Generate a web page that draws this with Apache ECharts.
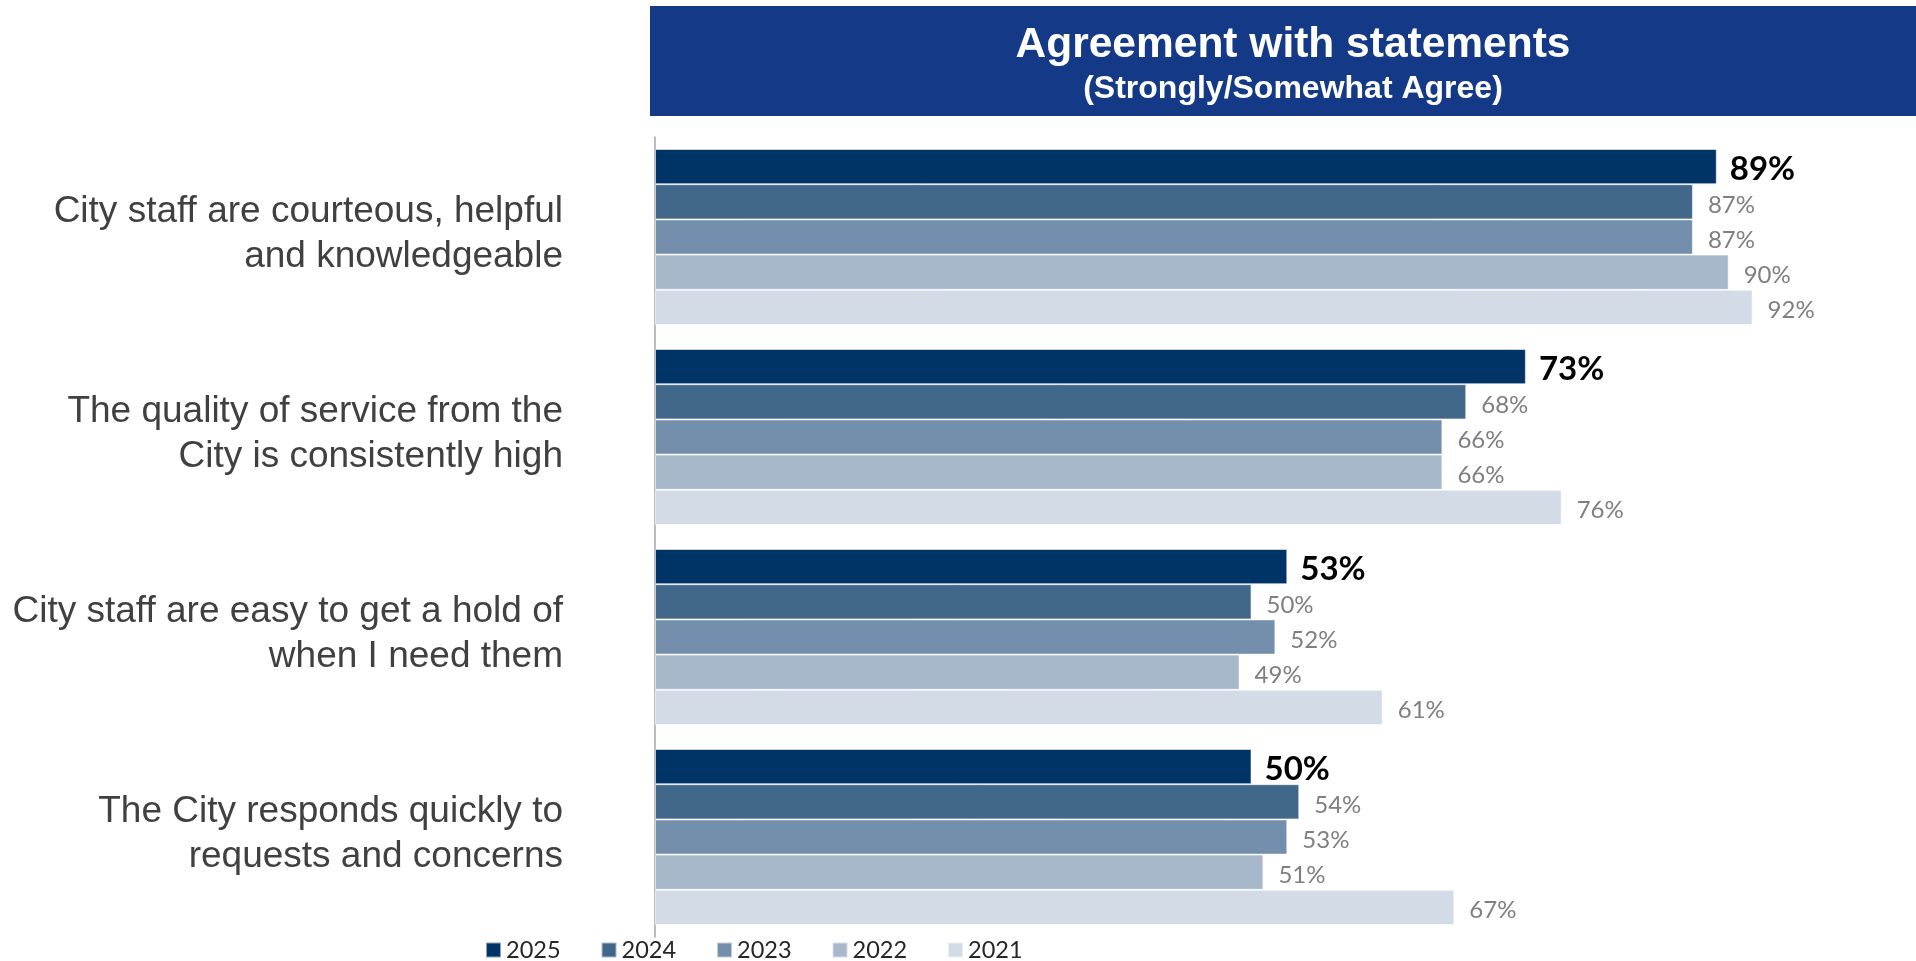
<!DOCTYPE html>
<html>
<head>
<meta charset="utf-8">
<style>
  html, body { margin: 0; padding: 0; background: #fff; }
  #chart { width: 1916px; height: 961px; }
</style>
<script src="https://cdn.jsdelivr.net/npm/echarts@6/dist/echarts.min.js"></script>
</head>
<body>
<div id="chart"></div>
<script>
// Statements shown on the left, top to bottom
const statements = [
  'City staff are courteous, helpful\nand knowledgeable',
  'The quality of service from the\nCity is consistently high',
  'City staff are easy to get a hold of\nwhen I need them',
  'The City responds quickly to\nrequests and concerns'
];

// Survey years, newest first
const years = ['2025', '2024', '2023', '2022', '2021'];

// Percent who strongly/somewhat agree, one array per year (same order as statements)
const pct2025 = [89, 73, 53, 50];
const pct2024 = [87, 68, 50, 54];
const pct2023 = [87, 66, 52, 53];
const pct2022 = [90, 66, 49, 51];
const pct2021 = [92, 76, 61, 67];

const yearValues = [pct2025, pct2024, pct2023, pct2022, pct2021];
const yearColors = ['#003366', '#41678B', '#748FAC', '#A7B8CB', '#D3DCE6'];

const chart = echarts.init(document.getElementById('chart'));

const series = years.map((y, i) => ({
  name: y,
  type: 'bar',
  data: yearValues[i],
  barGap: '0%',
  barCategoryGap: '12%',
  itemStyle: {
    color: yearColors[i],
    borderColor: 'rgba(255,255,255,0.55)',
    borderWidth: 1
  },
  label: {
    show: true,
    position: 'right',
    distance: i === 0 ? 13 : 15,
    offset: [0, 3],
    formatter: '{c}%',
    fontFamily: 'Lato',
    fontSize: i === 0 ? 33 : 24,
    fontWeight: i === 0 ? 'bold' : 'normal',
    color: i === 0 ? '#000000' : '#7F7F7F'
  },
  emphasis: { disabled: true }
}));

chart.setOption({
  animation: false,
  backgroundColor: '#ffffff',
  graphic: [
    {
      type: 'rect',
      shape: { x: 650, y: 6, width: 1266, height: 110 },
      style: { fill: '#143A87' },
      silent: true
    },
    {
      type: 'text',
      x: 1293, y: 45,
      style: {
        text: 'Agreement with statements',
        fill: '#ffffff',
        font: 'bold 42.5px "Liberation Sans", Arial, sans-serif',
        align: 'center',
        verticalAlign: 'middle'
      }
    },
    {
      type: 'text',
      x: 1293, y: 89,
      style: {
        text: '(Strongly/Somewhat Agree)',
        fill: '#ffffff',
        font: 'bold 32px "Liberation Sans", Arial, sans-serif',
        align: 'center',
        verticalAlign: 'middle'
      }
    }
  ],
  legend: {
    data: years,
    left: 485,
    top: 938,
    padding: 0,
    itemWidth: 15,
    itemHeight: 15,
    itemGap: 40,
    icon: 'rect',
    textStyle: { fontFamily: 'Lato', fontSize: 23.5, color: '#262626', padding: [0, 0, 0, 0] }
  },
  grid: { left: 655, right: 68, top: 137, bottom: 24, containLabel: false },
  xAxis: {
    type: 'value',
    min: 0,
    max: 100,
    show: false
  },
  yAxis: {
    type: 'category',
    data: statements,
    inverse: true,
    axisLine: { show: true, lineStyle: { color: '#A6A6A6', width: 1.5 } },
    axisTick: { show: false },
    splitLine: { show: false },
    axisLabel: {
      margin: 92,
      fontFamily: '"Liberation Sans", Arial, sans-serif',
      fontSize: 37,
      lineHeight: 45,
      color: '#404040',
      align: 'right',
      // trailing spacer line nudges each two-line label slightly upward
      formatter: (v) => v + '\n{gap|}',
      rich: { gap: { fontSize: 6, lineHeight: 6 } }
    }
  },
  series: series
});
</script>
</body>
</html>
